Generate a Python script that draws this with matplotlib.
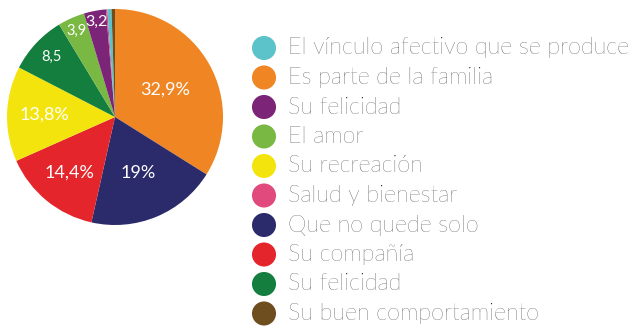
import numpy as np
import matplotlib
matplotlib.use('Agg')
import matplotlib.pyplot as plt

# legend entries (top to bottom)
labels = ['El vínculo afectivo que se produce', 'Es parte de la familia', 'Su felicidad',
          'El amor', 'Su recreación', 'Salud y bienestar', 'Que no quede solo',
          'Su compañía', 'Su felicidad', 'Su buen comportamiento']
colors = ['#5CC3CA', '#EF8523', '#7B2478', '#79B843', '#F4E40D', '#E04A7D',
          '#2B2A6A', '#E4262C', '#137E3E', '#6E4D1F']
values = [0.6, 32.9, 3.2, 3.9, 13.8, 0.2, 19, 14.4, 8.5, 0.5]
value_text = ['', '32,9%', '3,2', '3,9', '13,8%', '', '19%', '14,4%', '8,5', '']

# clockwise order of the slices starting at 12 o'clock
pie_order = [1, 6, 7, 4, 8, 3, 2, 5, 0, 9]
label_r = {1: 0.53, 6: 0.56, 7: 0.67, 4: 0.65, 8: 0.81, 3: 0.87, 2: 0.90}
label_fs = {1: 13, 6: 13, 7: 13, 4: 13, 8: 10.5, 3: 10.5, 2: 11.5}

plt.rcParams['font.family'] = ['Lato', 'DejaVu Sans']

fig = plt.figure(figsize=(6.29, 3.28), dpi=100)
ax = fig.add_axes([7 / 629, 103 / 328, 216 / 629, 216 / 328])
wedges, _ = ax.pie([values[i] for i in pie_order],
                   colors=[colors[i] for i in pie_order],
                   startangle=90, counterclock=False, radius=1)
ax.set_xlim(-1, 1)
ax.set_ylim(-1, 1)
ax.set_aspect('equal')
ax.axis('off')

for w, i in zip(wedges, pie_order):
    if not value_text[i]:
        continue
    ang = np.deg2rad((w.theta1 + w.theta2) / 2)
    r = label_r[i]
    ax.text(r * np.cos(ang), r * np.sin(ang), value_text[i], color='white',
            fontsize=label_fs[i], fontweight='normal', ha='center', va='center')

# legend column
lx = fig.add_axes([0, 0, 1, 1])
lx.set_xlim(0, 629)
lx.set_ylim(328, 0)
lx.axis('off')
y0, dy = 48, 29.5
for k, (lab, c) in enumerate(zip(labels, colors)):
    y = y0 + k * dy
    lx.scatter([264], [y], s=300, color=c, edgecolors='none')
    lx.text(288, y, lab, fontsize=16.8, fontweight='light', color='#111111',
            ha='left', va='center')

fig.savefig('out.png', dpi=100)
